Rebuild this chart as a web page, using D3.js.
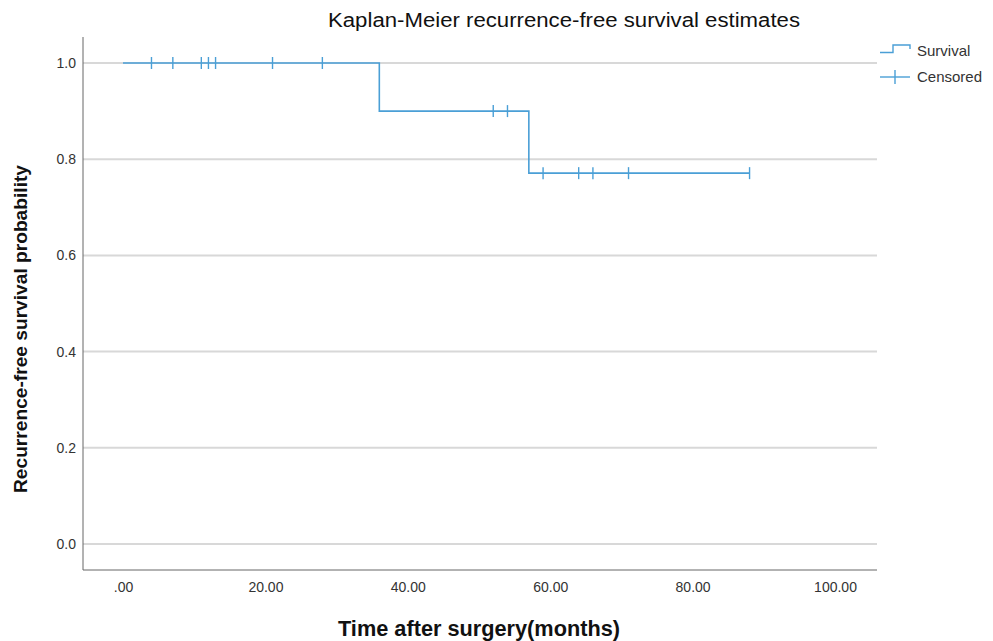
<!DOCTYPE html>
<html>
<head>
<meta charset="utf-8">
<script src="https://cdn.jsdelivr.net/npm/d3@7"></script>
<style>
  body { margin: 0; background: #fff; }
  text { font-family: "Liberation Sans", Arial, sans-serif; }
</style>
</head>
<body>
<script>
// step curve: time of each event and survival level after it
const stepTimes = [0, 36, 57];
const stepLevels = [1.0, 0.9, 0.771];
const endTime = 88;

// censored cases (months)
const censoredTimes = [4, 7, 11, 12, 13, 21, 28, 52, 54, 59, 64, 66, 71, 88];

const xTicks = [0, 20, 40, 60, 80, 100];
const yTicks = [0, 0.2, 0.4, 0.6, 0.8, 1.0];

const W = 993, H = 641;
const lineColor = "#4a9fd6";

const svg = d3.select("body").append("svg")
  .attr("width", W)
  .attr("height", H);

const x = d3.scaleLinear().domain([0, 100]).range([123, 835]);
const y = d3.scaleLinear().domain([0, 1]).range([544, 63]);

const plotLeft = 83, plotRight = 877, plotTop = 37, plotBottom = 570;

// gridlines
svg.append("g")
  .selectAll("line")
  .data(yTicks)
  .join("line")
  .attr("x1", plotLeft).attr("x2", plotRight)
  .attr("y1", d => y(d)).attr("y2", d => y(d))
  .attr("stroke", "#d8d8d8")
  .attr("stroke-width", 2);

// axes (no tick marks, just labels)
const yAxis = svg.append("g")
  .attr("transform", `translate(${plotLeft},0)`)
  .call(d3.axisLeft(y).tickValues(yTicks).tickSize(0).tickPadding(7).tickFormat(d3.format(".1f")));
yAxis.select(".domain").attr("d", `M0,${plotTop}V${plotBottom}`).attr("stroke", "#666");

const xAxis = svg.append("g")
  .attr("transform", `translate(0,${plotBottom})`)
  .call(d3.axisBottom(x).tickValues(xTicks).tickSize(0).tickPadding(12)
    .tickFormat(d => d === 0 ? ".00" : d3.format(".2f")(d)));
xAxis.select(".domain").attr("d", `M${plotLeft},0H${plotRight}`).attr("stroke", "#666");

svg.selectAll(".tick text")
  .attr("font-size", 14)
  .attr("fill", "#333")
  .style("font-family", "'Liberation Sans', Arial, sans-serif");

// survival step line
const pts = [];
stepTimes.forEach((t, i) => {
  if (i > 0) pts.push([t, stepLevels[i - 1]]);
  pts.push([t, stepLevels[i]]);
});
pts.push([endTime, stepLevels[stepLevels.length - 1]]);

svg.append("path")
  .datum(pts)
  .attr("fill", "none")
  .attr("stroke", lineColor)
  .attr("stroke-width", 1.6)
  .attr("d", d3.line().x(d => x(d[0])).y(d => y(d[1])));

// survival value at time t
function levelAt(t) {
  let v = stepLevels[0];
  stepTimes.forEach((s, i) => { if (t >= s) v = stepLevels[i]; });
  return v;
}

svg.append("g")
  .selectAll("line")
  .data(censoredTimes)
  .join("line")
  .attr("x1", d => x(d)).attr("x2", d => x(d))
  .attr("y1", d => y(levelAt(d)) - 6).attr("y2", d => y(levelAt(d)) + 6)
  .attr("stroke", lineColor)
  .attr("stroke-width", 1.4);

// title
svg.append("text")
  .attr("x", 564).attr("y", 27)
  .attr("text-anchor", "middle")
  .attr("font-size", 20)
  .attr("textLength", 472)
  .attr("lengthAdjust", "spacingAndGlyphs")
  .attr("fill", "#111")
  .text("Kaplan-Meier recurrence-free survival estimates");

// axis titles
svg.append("text")
  .attr("x", 479).attr("y", 636)
  .attr("text-anchor", "middle")
  .attr("font-size", 22)
  .attr("font-weight", "bold")
  .attr("textLength", 282)
  .attr("lengthAdjust", "spacingAndGlyphs")
  .attr("fill", "#111")
  .text("Time after surgery(months)");

svg.append("text")
  .attr("transform", "translate(27,329) rotate(-90)")
  .attr("text-anchor", "middle")
  .attr("font-size", 19)
  .attr("font-weight", "bold")
  .attr("textLength", 328)
  .attr("lengthAdjust", "spacingAndGlyphs")
  .attr("fill", "#111")
  .text("Recurrence-free survival probability");

// legend
const legend = svg.append("g");
legend.append("path")
  .attr("d", "M880,52.5H893V45H910V49")
  .attr("fill", "none")
  .attr("stroke", lineColor)
  .attr("stroke-width", 1.4);
legend.append("text")
  .attr("x", 917).attr("y", 56)
  .attr("font-size", 15)
  .attr("fill", "#333")
  .text("Survival");

legend.append("line")
  .attr("x1", 880).attr("x2", 910).attr("y1", 77).attr("y2", 77)
  .attr("stroke", lineColor).attr("stroke-width", 1.4);
legend.append("line")
  .attr("x1", 895).attr("x2", 895).attr("y1", 70).attr("y2", 84)
  .attr("stroke", lineColor).attr("stroke-width", 1.4);
legend.append("text")
  .attr("x", 917).attr("y", 82)
  .attr("font-size", 15)
  .attr("fill", "#333")
  .text("Censored");
</script>
</body>
</html>
